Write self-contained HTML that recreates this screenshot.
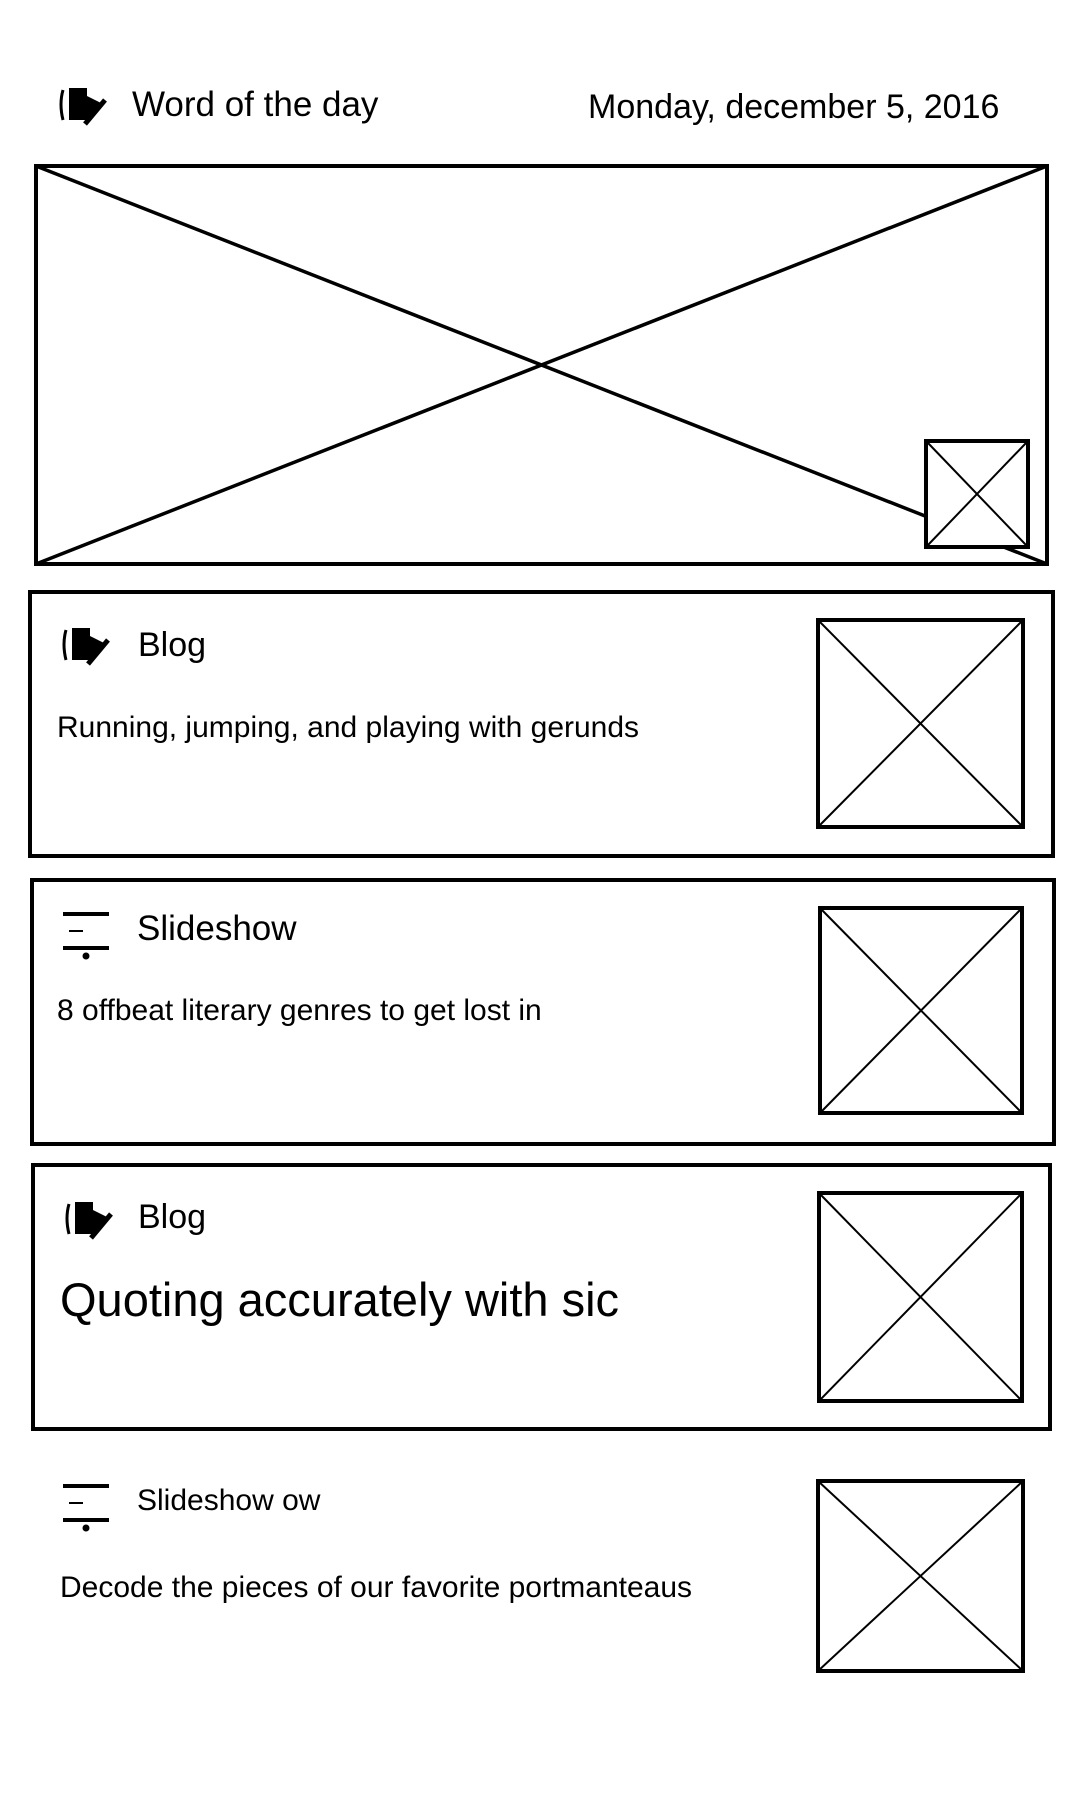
<!DOCTYPE html>
<html>
<head>
<meta charset="utf-8">
<style>
  html,body{margin:0;padding:0;background:#fff;}
  body{width:1080px;height:1800px;position:relative;overflow:hidden;font-family:"Liberation Sans",Arial,sans-serif;color:#000;}
  .abs{position:absolute;}
  .t{position:absolute;white-space:nowrap;line-height:1;}
  .card{position:absolute;border:4px solid #000;box-sizing:border-box;}
  svg.ph{position:absolute;overflow:visible;}
</style>
</head>
<body>

<svg width="0" height="0" style="position:absolute">
  <defs>
    <g id="blog-ic">
      <path d="M6 8 Q2 22 6 38" stroke="#000" stroke-width="3" fill="none"/>
      <rect x="12" y="6" width="18" height="32" fill="#000"/>
      <path d="M30 14 L46 22 L30 40 Z" fill="#000"/>
      <path d="M28 42 L48 18" stroke="#000" stroke-width="5"/>
    </g>
    <g id="slide-ic">
      <rect x="2" y="4" width="46" height="4" fill="#000"/>
      <rect x="8" y="22" width="14" height="2" fill="#000"/>
      <rect x="2" y="38" width="46" height="4" fill="#000"/>
      <circle cx="25" cy="48" r="3.5" fill="#000"/>
    </g>
  </defs>
</svg>

<!-- header -->
<svg class="abs" style="left:54px;top:82px" width="56" height="48" viewBox="0 0 50 48"><use href="#blog-ic"/></svg>
<div class="t" style="left:132px;top:87px;font-size:35px">Word of the day</div>
<div class="t" style="left:588px;top:90px;font-size:34px">Monday, december 5, 2016</div>

<!-- hero image -->
<svg class="ph" style="left:34px;top:164px" width="1015" height="402">
  <rect x="2" y="2" width="1011" height="398" fill="none" stroke="#000" stroke-width="4"/>
  <line x1="2" y1="2" x2="1013" y2="400" stroke="#000" stroke-width="3.5"/>
  <line x1="2" y1="400" x2="1013" y2="2" stroke="#000" stroke-width="3.5"/>
  <rect x="892" y="277" width="102" height="106" fill="#fff" stroke="#000" stroke-width="4"/>
  <line x1="894" y1="279" x2="992" y2="381" stroke="#000" stroke-width="2"/>
  <line x1="894" y1="381" x2="992" y2="279" stroke="#000" stroke-width="2"/>
</svg>

<!-- card 1 -->
<div class="card" style="left:28px;top:590px;width:1027px;height:268px"></div>
<svg class="abs" style="left:57px;top:622px" width="56" height="48" viewBox="0 0 50 48"><use href="#blog-ic"/></svg>
<div class="t" style="left:138px;top:628px;font-size:34px">Blog</div>
<div class="t" style="left:57px;top:713px;font-size:30px">Running, jumping, and playing with gerunds</div>
<svg class="ph" style="left:816px;top:618px" width="209" height="211">
  <rect x="2" y="2" width="205" height="207" fill="none" stroke="#000" stroke-width="4"/>
  <line x1="2" y1="2" x2="207" y2="209" stroke="#000" stroke-width="2"/>
  <line x1="2" y1="209" x2="207" y2="2" stroke="#000" stroke-width="2"/>
</svg>

<!-- card 2 -->
<div class="card" style="left:30px;top:878px;width:1026px;height:268px"></div>
<svg class="abs" style="left:60px;top:908px" width="52" height="54" viewBox="0 0 50 54"><use href="#slide-ic"/></svg>
<div class="t" style="left:137px;top:911px;font-size:35px">Slideshow</div>
<div class="t" style="left:57px;top:996px;font-size:30px">8 offbeat literary genres to get lost in</div>
<svg class="ph" style="left:818px;top:906px" width="206" height="209">
  <rect x="2" y="2" width="202" height="205" fill="none" stroke="#000" stroke-width="4"/>
  <line x1="2" y1="2" x2="204" y2="207" stroke="#000" stroke-width="2"/>
  <line x1="2" y1="207" x2="204" y2="2" stroke="#000" stroke-width="2"/>
</svg>

<!-- card 3 -->
<div class="card" style="left:31px;top:1163px;width:1021px;height:268px"></div>
<svg class="abs" style="left:60px;top:1196px" width="56" height="48" viewBox="0 0 50 48"><use href="#blog-ic"/></svg>
<div class="t" style="left:138px;top:1200px;font-size:34px">Blog</div>
<div class="t" style="left:60px;top:1276px;font-size:47px">Quoting accurately with sic</div>
<svg class="ph" style="left:817px;top:1191px" width="207" height="212">
  <rect x="2" y="2" width="203" height="208" fill="none" stroke="#000" stroke-width="4"/>
  <line x1="2" y1="2" x2="205" y2="210" stroke="#000" stroke-width="2"/>
  <line x1="2" y1="210" x2="205" y2="2" stroke="#000" stroke-width="2"/>
</svg>

<!-- item 5 -->
<svg class="abs" style="left:60px;top:1480px" width="52" height="54" viewBox="0 0 50 54"><use href="#slide-ic"/></svg>
<div class="t" style="left:137px;top:1486px;font-size:30px">Slideshow ow</div>
<div class="t" style="left:60px;top:1573px;font-size:30px">Decode the pieces of our favorite portmanteaus</div>
<svg class="ph" style="left:816px;top:1479px" width="209" height="194">
  <rect x="2" y="2" width="205" height="190" fill="none" stroke="#000" stroke-width="4"/>
  <line x1="2" y1="2" x2="207" y2="192" stroke="#000" stroke-width="2"/>
  <line x1="2" y1="192" x2="207" y2="2" stroke="#000" stroke-width="2"/>
</svg>

</body>
</html>
